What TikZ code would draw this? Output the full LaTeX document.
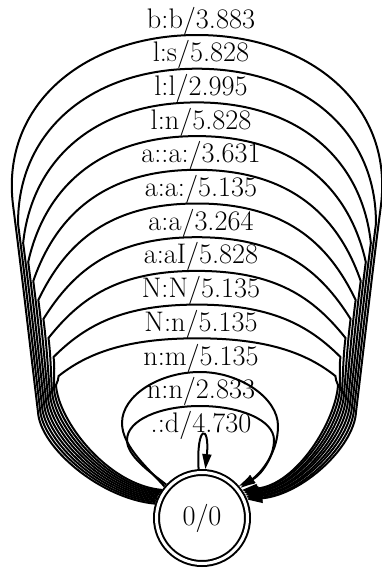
\documentclass[tikz,border=0pt]{standalone}
\usepackage{fontspec}
\usetikzlibrary{arrows.meta,calc}
\begin{document}
\begin{tikzpicture}[x=1pt,y=-1pt,
  edge/.style={line width=2pt,-{Triangle[length=15pt,width=9pt]}},
  lbl/.style={anchor=base,inner sep=0pt,font=\fontsize{28.3}{34}\selectfont},
  state/.style={circle,draw,line width=2pt,double,double distance=3pt,minimum size=91pt,inner sep=0pt,outer sep=3.5pt,font=\fontsize{28.3}{34}\selectfont}]
\useasboundingbox (0,0) rectangle (382,568);
\node[state] (s) at (202,518) {0/0};
% big loops
\foreach \i in {1,...,10}{
  \pgfmathsetmacro\t{35+33.7*(\i-1)}
  \pgfmathsetmacro\ya{205+19*(\i-1)}
  \pgfmathsetmacro\xa{13+0.13*(\ya-205)+2.6*(\i-1)}
  \pgfmathsetmacro\xb{394-\xa}
  \pgfmathsetmacro\kx{38+2.0*(\i-1)}
  \pgfmathsetmacro\kb{394-\kx}
  \pgfmathsetmacro\ky{412-3*(\i-1)}
  \pgfmathtruncatemacro\sa{163-2*(\i-1)}
  \pgfmathtruncatemacro\ea{22+1.5*(\i-1)}
  \pgfmathsetmacro\ph{-7+6.5*(\i-1)}
  \pgfmathsetmacro\L{0.6*(\ya-\t)/cos(\ph)}
  \pgfmathsetmacro\Lx{\L*sin(\ph)}
  \pgfmathsetmacro\Ly{\L*cos(\ph)}
  \pgfmathsetmacro\M{(0.6-0.01*(\i-1))*(197-\xa)}
  \pgfmathsetmacro\D{(\ky-\ya)/3}
  \draw[edge] (s.\sa) .. controls +(-55,-5) and +(2,35) .. (\kx,\ky)
     .. controls +({(\xa-\kx)/3},{-\D}) and +({0.13*\D},{\D}) .. (\xa,\ya)
     .. controls +({\Lx},{-\Ly}) and +({-\M},0) .. (197,\t)
     .. controls +({\M},0) and +({-\Lx},{-\Ly}) .. (\xb,\ya)
     .. controls +({-0.13*\D},{\D}) and +({(\kx-\xa)/3},{-\D}) .. (\kb,\ky)
     .. controls +(-2,35) and +(55,-5) .. (s.\ea);
}
% n:m loop
\draw[edge] (s.140) .. controls (150,470) and (122,447) .. (122,423)
  .. controls (122,395) and (160,372) .. (200,372)
  .. controls (240,372) and (278,398) .. (278,426)
  .. controls (278,452) and (262,472) .. (s.38);
% n:n loop
\draw[edge] (s.137) .. controls (150,472) and (127,456) .. (127,440)
  .. controls (127,420) and (160,406) .. (200,406)
  .. controls (240,406) and (274,420) .. (274,440)
  .. controls (274,458) and (260,476) .. (s.41);
% tiny loop
\draw[edge] (s.94) .. controls (196,424) and (210,424) .. (s.86);
% labels
\node[lbl] (l1) at (201,28) {b:b/3.883};
\node[lbl] (l2) at (201,61.7) {l:s/5.828};
\node[lbl] (l3) at (201,95.4) {l:l/2.995};
\node[lbl] (l4) at (201,129.1) {l:n/5.828};
\node[lbl] (l5) at (201,162.8) {a::a:/3.631};
\node[lbl] (l6) at (201,196.5) {a:a:/5.135};
\node[lbl] (l7) at (201,230.2) {a:a/3.264};
\node[lbl] (l8) at (201,263.9) {a:aI/5.828};
\node[lbl] (l9) at (201,297.6) {N:N/5.135};
\node[lbl] (l10) at (201,331.3) {N:n/5.135};
\node[lbl] (l11) at (201,365) {n:m/5.135};
\node[lbl] (l12) at (201,398.7) {n:n/2.833};
\node[lbl] (l13) at (201,432.4) {.:d/4.730};
\end{tikzpicture}
\end{document}
